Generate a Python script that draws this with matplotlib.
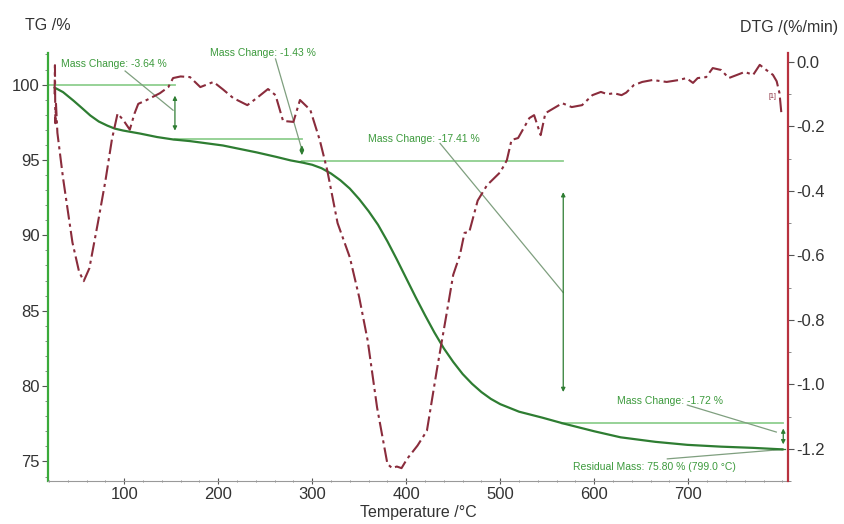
"""
TG / DTG thermogram recreated with matplotlib.
"""

import matplotlib.pyplot as plt
from matplotlib.ticker import MultipleLocator

plt.rcParams['font.family'] = ['Liberation Sans', 'DejaVu Sans']

# TG curve (mass %) vs temperature
tg_temp = [26, 35, 46, 55, 64, 73, 82, 90, 99, 117, 135, 152, 170, 181, 205,
           241, 262, 277, 290, 300, 310, 320, 330, 340, 350, 360, 370, 380,
           390, 400, 410, 420, 430, 440, 450, 460, 470, 480, 490, 500, 520,
           545, 567, 600, 628, 665, 699, 735, 769, 800]
tg_mass = [99.8, 99.5, 98.94, 98.45, 97.95, 97.55, 97.28, 97.08, 96.95, 96.75,
           96.52, 96.36, 96.25, 96.16, 95.96, 95.5, 95.2, 94.97, 94.82, 94.68,
           94.45, 94.1, 93.65, 93.1, 92.4, 91.6, 90.7, 89.6, 88.4, 87.15, 85.9,
           84.7, 83.55, 82.5, 81.6, 80.8, 80.15, 79.6, 79.15, 78.8, 78.3, 77.9,
           77.52, 77.0, 76.6, 76.3, 76.1, 75.98, 75.9, 75.8]

# DTG curve (%/min) vs temperature
dtg_temp = [26, 26.4, 26.8, 27.5, 29, 35, 45, 52, 57, 63, 72, 80, 87, 93, 99,
            106, 111, 115, 124, 138, 147, 152, 160, 170, 181, 195, 205, 216,
            231, 241, 253, 261, 269, 280, 287, 298, 308, 316, 327, 340, 350,
            359, 369, 380, 385, 390, 395, 401, 412, 422, 433, 443, 450, 457,
            462, 467, 476, 486, 500, 507, 512, 519, 531, 536, 543, 548, 559,
            566, 576, 587, 598, 607, 614, 621, 629, 634, 642, 651, 662, 677,
            690, 698, 705, 710, 719, 726, 735, 743, 752, 760, 769, 776, 783,
            790, 794, 797, 799]
dtg_rate = [-0.10, -0.01, -0.19, -0.13, -0.22, -0.36, -0.56, -0.65, -0.68,
            -0.64, -0.50, -0.37, -0.24, -0.16, -0.18, -0.21, -0.16, -0.13,
            -0.118, -0.097, -0.078, -0.05, -0.045, -0.047, -0.078, -0.062,
            -0.085, -0.112, -0.134, -0.112, -0.084, -0.103, -0.183, -0.186,
            -0.118, -0.149, -0.242, -0.336, -0.50, -0.606, -0.73, -0.864,
            -1.072, -1.247, -1.26, -1.255, -1.26, -1.231, -1.19, -1.144,
            -0.948, -0.78, -0.66, -0.60, -0.53, -0.528, -0.43, -0.382, -0.342,
            -0.305, -0.242, -0.236, -0.174, -0.165, -0.227, -0.159, -0.14,
            -0.128, -0.14, -0.134, -0.103, -0.093, -0.10, -0.097, -0.103,
            -0.095, -0.072, -0.062, -0.056, -0.062, -0.056, -0.05, -0.065,
            -0.05, -0.047, -0.019, -0.025, -0.05, -0.04, -0.031, -0.04,
            -0.009, -0.025, -0.04, -0.06, -0.097, -0.159]

# mass change steps: (start T, end T, start %, end %, label)
step_t0 = [19, 154, 289, 567]
step_t1 = [154, 289, 567, 801]
step_m0 = [100.0, 96.36, 94.93, 77.52]
step_m1 = [96.36, 94.93, 77.52, 75.80]
step_labels = ["Mass Change: -3.64 %", "Mass Change: -1.43 %",
               "Mass Change: -17.41 %", "Mass Change: -1.72 %"]
label_pos = [(32.8, 101.39), (191.5, 102.12), (359.6, 96.42), (624.5, 79.0)]
leader_from = [(101, 100.9), (261, 101.7), (436, 96.1), (699, 78.74)]
leader_to = [(152, 98.3), (289.4, 95.6), (567, 86.2), (793.6, 76.95)]
arrow_inset = [(0.55, 0.4), (0.2, 0.2), (1.88, 1.9), (0.15, 0.15)]

residual_label = "Residual Mass: 75.80 % (799.0 °C)"

TG_COL = "#2e7d32"
DTG_COL = "#8a2c3c"
TXT_COL = "#3c9a3c"
HL_COL = "#8fcf8f"
LEAD_COL = "#7f9f7f"

fig = plt.figure(figsize=(8.45, 5.24), dpi=100)
ax = fig.add_axes([0.0568, 0.082, 0.8757, 0.817])
ax2 = ax.twinx()

ax.plot(tg_temp, tg_mass, color=TG_COL, lw=1.6, zorder=3)
ax2.plot(dtg_temp, dtg_rate, color=DTG_COL, lw=1.5,
         linestyle=(0, (7, 2, 1.5, 2)), zorder=3)

ax.set_xlim(19, 806)
ax.set_ylim(73.7, 102.1)
ax2.set_ylim(-1.30, 0.028)

for i in range(4):
    ax.plot([step_t0[i], step_t1[i]], [step_m0[i], step_m0[i]],
            color=HL_COL, lw=1.3, zorder=2)
    top, bot = arrow_inset[i]
    ax.annotate("", xy=(step_t1[i], step_m1[i] + bot),
                xytext=(step_t1[i], step_m0[i] - top),
                arrowprops=dict(arrowstyle="<|-|>", color=TG_COL, lw=0.9,
                                mutation_scale=6))
    ax.plot([step_t1[i] - 2, step_t1[i] + 2], [step_m1[i], step_m1[i]],
            color=TG_COL, lw=0.9)
    ax.plot([leader_from[i][0], leader_to[i][0]],
            [leader_from[i][1], leader_to[i][1]], color=LEAD_COL, lw=0.9)
    ax.text(label_pos[i][0], label_pos[i][1], step_labels[i], color=TXT_COL,
            fontsize=7.5, va="center", ha="left", clip_on=False)

ax.plot([677.7, 801], [75.17, 75.8], color=LEAD_COL, lw=0.9)
ax.plot([790, 801], [75.8, 75.8], color=TG_COL, lw=0.9)
ax.text(577.7, 74.64, residual_label, color=TXT_COL, fontsize=7.5,
        va="center", ha="left")
ax2.text(790, -0.106, "[1]", color=DTG_COL, fontsize=5, ha="center",
         va="center")

# spines
ax.spines["top"].set_visible(False)
ax2.spines["top"].set_visible(False)
ax.spines["left"].set_color("#3aaa3a")
ax.spines["left"].set_linewidth(1.6)
ax2.spines["right"].set_color("#b8323f")
ax2.spines["right"].set_linewidth(1.6)
ax.spines["bottom"].set_color("#999999")
ax2.spines["left"].set_visible(False)
ax2.spines["bottom"].set_visible(False)
ax.spines["right"].set_visible(False)

ax.xaxis.set_major_locator(MultipleLocator(100))
ax.xaxis.set_minor_locator(MultipleLocator(20))
ax.set_xticks([100, 200, 300, 400, 500, 600, 700])
ax.yaxis.set_major_locator(MultipleLocator(5))
ax.yaxis.set_minor_locator(MultipleLocator(1))
ax2.yaxis.set_major_locator(MultipleLocator(0.2))
ax2.yaxis.set_minor_locator(MultipleLocator(0.1))
ax2.set_yticks([0.0, -0.2, -0.4, -0.6, -0.8, -1.0, -1.2])
ax2.set_yticklabels(["0.0", "-0.2", "-0.4", "-0.6", "-0.8", "-1.0", "-1.2"])

ax.tick_params(axis="both", which="major", labelsize=12, length=4,
               color="#555555", pad=2, labelcolor="#333333")
ax.tick_params(axis="both", which="minor", length=2, color="#777777")
ax.tick_params(axis="x", which="both", direction="inout")
ax2.tick_params(axis="y", which="major", labelsize=12, length=4,
                color="#555555", pad=2, labelcolor="#333333")
ax2.tick_params(axis="y", which="minor", length=2, color="#777777")

fig.text(0.0296, 0.952, "TG /%", fontsize=11.5, ha="left", va="center",
         color="#333333")
fig.text(0.992, 0.948, "DTG /(%/min)", fontsize=11.5, ha="right",
         va="center", color="#333333")
fig.text(0.495, 0.021, "Temperature /°C", fontsize=11.5, ha="center",
         va="center", color="#333333")

fig.savefig("out.png", dpi=100)
